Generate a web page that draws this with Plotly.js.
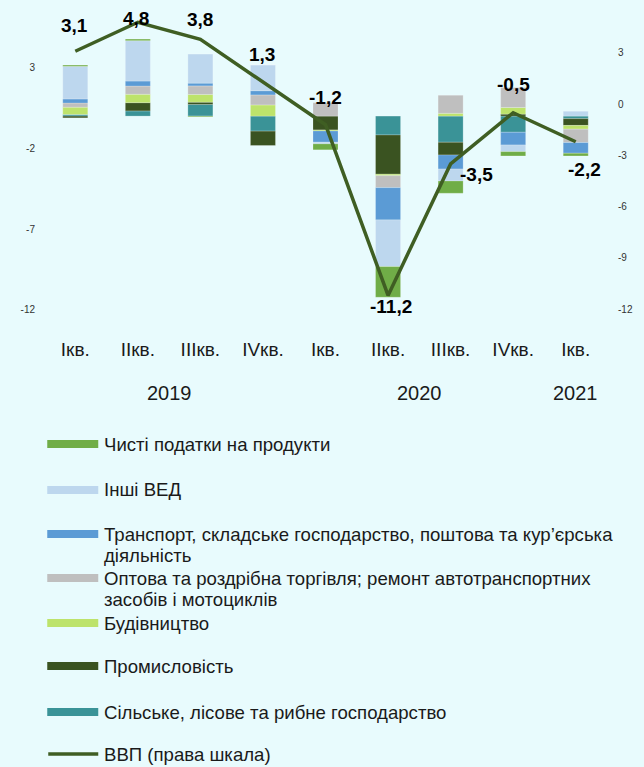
<!DOCTYPE html>
<html>
<head>
<meta charset="utf-8">
<script src="https://cdn.plot.ly/plotly-3.0.1.min.js"></script>
<style>
  html, body { margin: 0; padding: 0; background: #E8FBFD; }
  #chart { width: 644px; height: 767px; }
</style>
</head>
<body>
<div id="chart"></div>
<script>
// ---------- DATA ----------
const quarters = ['Ікв.', 'ІІкв.', 'ІІІкв.', 'ІVкв.', 'Ікв.', 'ІІкв.', 'ІІІкв.', 'ІVкв.', 'Ікв.'];
const years    = ['2019', '2019', '2019', '2019', '2020', '2020', '2020', '2020', '2021'];

const agriculture  = [0.10, 0.32, 0.72, -0.93, 0.00, -1.17, -1.62, -1.00, -0.16];
const industry     = [-0.11, 0.51, 0.14, -0.89, -0.86, -2.43, -0.79, 0.12, -0.42];
const construction = [0.45, 0.52, 0.48, 0.69, -0.06, -0.09, 0.17, 0.41, -0.23];
const trade        = [0.26, 0.51, 0.53, 0.62, 0.83, -0.74, 1.12, 1.24, -0.83];
const transport    = [0.25, 0.31, 0.17, 0.26, -0.70, -2.00, -0.87, -0.79, -0.66];
const otherActs    = [2.02, 2.50, 1.80, 1.60, -0.10, -2.89, -0.74, -0.41, 0.30];
const netTaxes     = [0.08, 0.10, -0.05, 0.00, -0.37, -1.90, -0.76, -0.27, -0.17];
const gdp          = [3.1, 4.8, 3.8, 1.3, -1.2, -11.2, -3.5, -0.5, -2.2];

const names = {
  agriculture:  'Сільське, лісове та рибне господарство',
  industry:     'Промисловість',
  construction: 'Будівництво',
  trade:        'Оптова та роздрібна торгівля; ремонт автотранспортних засобів і мотоциклів',
  transport:    'Транспорт, складське господарство, поштова та кур’єрська діяльність',
  otherActs:    'Інші ВЕД',
  netTaxes:     'Чисті податки на продукти',
  gdp:          'ВВП (права шкала)'
};

const leftTicks  = [3, -2, -7, -12];
const rightTicks = [3, 0, -3, -6, -9, -12];

// ---------- STYLE ----------
const FONT = 'Liberation Sans, Arial, sans-serif';
const BG = '#E8FBFD';
const colors = {
  agriculture:  '#3A9397',
  industry:     '#3A5321',
  construction: '#BDE36B',
  trade:        '#BFBFBF',
  transport:    '#5B9BD5',
  otherActs:    '#BDD7EE',
  netTaxes:     '#70AD47',
  gdp:          '#3F5E23'
};

const xKeys = quarters.map((q, i) => years[i] + ' ' + q);

const seriesOrder = ['agriculture', 'industry', 'construction', 'trade', 'transport', 'otherActs', 'netTaxes'];
const seriesData = { agriculture, industry, construction, trade, transport, otherActs, netTaxes };

const traces = seriesOrder.map(k => ({
  type: 'bar',
  name: names[k],
  x: xKeys,
  y: seriesData[k],
  marker: { color: colors[k], line: { color: 'rgba(255,255,255,0.35)', width: 0.6 } },
  hoverinfo: 'skip'
}));

traces.push({
  type: 'scatter',
  mode: 'lines',
  name: names.gdp,
  x: xKeys,
  y: gdp,
  yaxis: 'y2',
  line: { color: colors.gdp, width: 3.5 },
  hoverinfo: 'skip'
});

// plot area in pixels
const W = 644, H = 767;
const plotL = 43.75, plotR = 606.75, plotT = 5, plotB = 320;
const px2paperX = px => (px - plotL) / (plotR - plotL);
const px2paperY = py => (plotB - py) / (plotB - plotT);

const annotations = [];

// GDP value labels
const labelShift = [[-1, 26], [-2, 4], [0, 20], [-1, 28], [0, 27], [3, -11], [26, -11], [0, 28], [9, -28]];
gdp.forEach((v, i) => {
  annotations.push({
    x: xKeys[i], y: v, xref: 'x', yref: 'y2',
    text: '<b>' + v.toFixed(1).replace('.', ',') + '</b>',
    showarrow: false,
    xshift: labelShift[i][0], yshift: labelShift[i][1],
    font: { family: FONT, size: 19, color: '#000000' },
    xanchor: 'center', yanchor: 'middle'
  });
});

// Year group labels
const groups = [];
years.forEach((y, i) => {
  const g = groups.find(gg => gg.year === y);
  if (g) { g.last = i; } else { groups.push({ year: y, first: i, last: i }); }
});
groups.forEach(g => {
  annotations.push({
    x: (g.first + g.last) / 2, y: px2paperY(393), xref: 'x', yref: 'paper',
    text: g.year, showarrow: false,
    font: { family: FONT, size: 20, color: '#1a1a1a' },
    xanchor: 'center', yanchor: 'middle'
  });
});

// Custom legend
const legendKeys = ['netTaxes', 'otherActs', 'transport', 'trade', 'construction', 'industry', 'agriculture', 'gdp'];
const legendY = [444, 490, 534, 578, 623, 666, 712, 754];
const shapes = [];
function wrap(text, maxChars) {
  const words = text.split(' ');
  const lines = [];
  let cur = '';
  words.forEach(w => {
    const t = cur ? cur + ' ' + w : w;
    if (t.length > maxChars && cur) { lines.push(cur); cur = w; } else { cur = t; }
  });
  if (cur) lines.push(cur);
  return lines;
}
legendKeys.forEach((k, i) => {
  const yc = legendY[i];
  if (k === 'gdp') {
    shapes.push({
      type: 'line', xref: 'paper', yref: 'paper',
      x0: px2paperX(48), x1: px2paperX(98), y0: px2paperY(yc), y1: px2paperY(yc),
      line: { color: colors.gdp, width: 3.5 }
    });
  } else {
    shapes.push({
      type: 'rect', xref: 'paper', yref: 'paper',
      x0: px2paperX(47), x1: px2paperX(98), y0: px2paperY(yc - 4), y1: px2paperY(yc + 4),
      fillcolor: colors[k], line: { width: 0 }
    });
  }
  wrap(names[k], 56).forEach((line, j) => {
    annotations.push({
      x: px2paperX(102), y: px2paperY(yc + j * 21), xref: 'paper', yref: 'paper',
      text: line, showarrow: false,
      font: { family: FONT, size: 18.6, color: '#1a1a1a' },
      xanchor: 'left', yanchor: 'middle'
    });
  });
});

const layout = {
  width: W, height: H,
  margin: { l: plotL, r: W - plotR, t: plotT, b: H - plotB, pad: 0 },
  paper_bgcolor: BG, plot_bgcolor: BG,
  barmode: 'relative', bargap: 0.6,
  showlegend: false,
  font: { family: FONT },
  xaxis: {
    type: 'category', range: [-0.5, 8.5],
    tickvals: xKeys, ticktext: quarters,
    showgrid: false, zeroline: false, showline: false, ticks: '',
    tickfont: { family: FONT, size: 19, color: '#1a1a1a' },
    ticklabelstandoff: 16, fixedrange: true
  },
  yaxis: {
    range: [-12.63, 6.88], tickvals: leftTicks, ticktext: leftTicks.map(String),
    showgrid: false, zeroline: false, showline: false, ticks: '',
    tickfont: { family: FONT, size: 10, color: '#333333' },
    ticklabelstandoff: 8
  },
  yaxis2: {
    overlaying: 'y', side: 'right',
    range: [-12.64, 5.81], tickvals: rightTicks, ticktext: rightTicks.map(String),
    showgrid: false, zeroline: false, showline: false, ticks: '',
    tickfont: { family: FONT, size: 10, color: '#333333' },
    ticklabelstandoff: 10
  },
  annotations: annotations,
  shapes: shapes
};

Plotly.newPlot('chart', traces, layout, { displayModeBar: false, staticPlot: true });
</script>
</body>
</html>
